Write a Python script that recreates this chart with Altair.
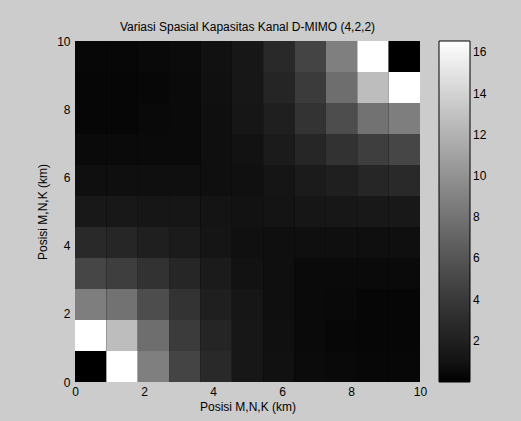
import altair as alt
import pandas as pd

title_text = "Variasi Spasial Kapasitas Kanal D-MIMO (4,2,2)"
x_title = "Posisi M,N,K (km)"
y_title = "Posisi M,N,K (km)"
axis_ticks = [0, 2, 4, 6, 8, 10]
cbar_ticks = [2, 4, 6, 8, 10, 12, 14, 16]
cbar_max = 16.55
n_cells = 11
extent = 10

# capacity values, rows from bottom (y=0) to top (y=10), columns left to right
row_00 = [0.00, 16.55, 8.83, 4.80, 2.73, 1.30, 0.84, 0.52, 0.39, 0.32, 0.32]
row_01 = [16.55, 12.66, 7.66, 4.15, 2.40, 1.30, 0.78, 0.45, 0.32, 0.26, 0.26]
row_02 = [8.76, 7.98, 5.39, 3.50, 1.95, 1.17, 0.71, 0.45, 0.39, 0.26, 0.26]
row_03 = [4.93, 4.35, 3.44, 2.47, 1.62, 0.91, 0.71, 0.45, 0.45, 0.45, 0.45]
row_04 = [2.73, 2.47, 1.95, 1.62, 1.10, 0.78, 0.71, 0.71, 0.71, 0.71, 0.71]
row_05 = [1.36, 1.36, 1.23, 1.17, 1.04, 0.91, 1.04, 1.17, 1.30, 1.36, 1.36]
row_06 = [0.71, 0.71, 0.71, 0.71, 0.71, 0.78, 1.10, 1.62, 1.95, 2.47, 2.73]
row_07 = [0.45, 0.45, 0.45, 0.45, 0.71, 0.91, 1.62, 2.47, 3.44, 4.35, 4.93]
row_08 = [0.26, 0.26, 0.39, 0.45, 0.71, 1.17, 1.95, 3.50, 5.39, 7.98, 8.76]
row_09 = [0.26, 0.26, 0.32, 0.45, 0.78, 1.30, 2.40, 4.15, 7.66, 12.66, 16.55]
row_10 = [0.32, 0.32, 0.39, 0.52, 0.84, 1.30, 2.73, 4.80, 8.83, 16.55, 0.00]
rows = [row_00, row_01, row_02, row_03, row_04, row_05,
        row_06, row_07, row_08, row_09, row_10]

step = extent / n_cells
records = []
for r, row in enumerate(rows):
    for c, v in enumerate(row):
        records.append({"x0": c * step, "x1": (c + 1) * step,
                        "y0": r * step, "y1": (r + 1) * step, "v": v})
df = pd.DataFrame(records)

FONT = "Liberation Sans"
color_scale = alt.Scale(domain=[0, cbar_max], range=["#000000", "#ffffff"])

chart = alt.Chart(df).mark_rect().encode(
    x=alt.X("x0:Q", scale=alt.Scale(domain=[0, extent], nice=False, zero=False),
            axis=alt.Axis(values=axis_ticks, title=x_title, labelFlush=False,
                          ticks=False, tickSize=0, grid=False, domain=False,
                          labelPadding=4, titlePadding=4, format="d")),
    x2="x1:Q",
    y=alt.Y("y0:Q", scale=alt.Scale(domain=[0, extent], nice=False, zero=False),
            axis=alt.Axis(values=axis_ticks, title=y_title, labelFlush=False,
                          ticks=False, tickSize=0, grid=False, domain=False,
                          labelPadding=5, titlePadding=7, format="d")),
    y2="y1:Q",
    color=alt.Color("v:Q", scale=color_scale,
                    legend=alt.Legend(type="gradient", orient="none",
                                      legendX=364, legendY=0,
                                      direction="vertical", title=None,
                                      gradientLength=341, gradientThickness=31,
                                      gradientStrokeColor="#000000",
                                      gradientStrokeWidth=1,
                                      values=cbar_ticks, labelOverlap=False,
                                      labelOffset=3, labelFontSize=12,
                                      labelFont=FONT, labelColor="#000000")),
).properties(
    width=345,
    height=341,
    title=alt.TitleParams(text=title_text, font=FONT, fontSize=12,
                          fontWeight="normal", color="#000000",
                          anchor="middle", baseline="alphabetic", offset=1, dy=9),
    autosize=alt.AutoSizeParams(type="none"),
    padding={"left": 75, "top": 41, "right": 101, "bottom": 39},
    background="#cccccc",
).configure_axis(
    labelFont=FONT, labelFontSize=12, labelColor="#000000",
    titleFont=FONT, titleFontSize=12, titleFontWeight="normal", titleColor="#000000",
).configure_legend(
    gradientVerticalMaxLength=400, gradientVerticalMinLength=10,
).configure_view(stroke=None, fill="#000000")

chart.save("out.html", embed_options={"renderer": "svg", "actions": False})
